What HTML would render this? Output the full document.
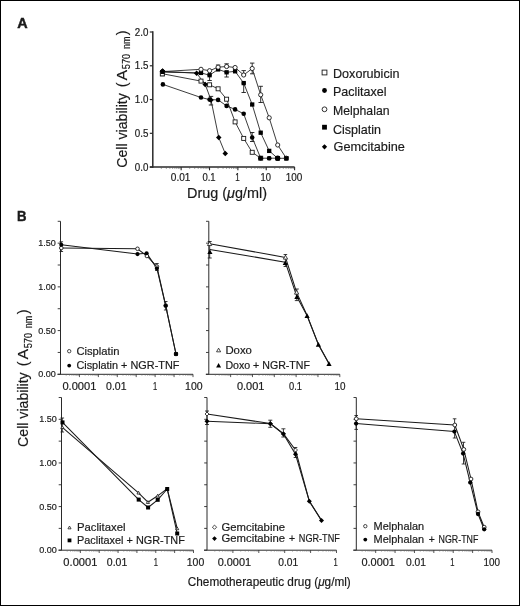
<!DOCTYPE html>
<html><head><meta charset="utf-8"><title>Figure</title>
<style>html,body{margin:0;padding:0;background:#fff;}svg{display:block;filter:grayscale(1);}</style></head><body>
<svg width="520" height="606" viewBox="0 0 520 606" font-family="Liberation Sans, sans-serif">
<rect x="0" y="0" width="520" height="606" fill="#fff"/>
<rect x="0.5" y="0.5" width="519" height="605" fill="none" stroke="#000" stroke-width="1"/>
<text x="17.20" y="27.80" font-size="14.6" text-anchor="start" fill="#1a1a1a" textLength="10.40" lengthAdjust="spacingAndGlyphs" font-weight="bold" stroke="#1a1a1a" stroke-width="0.45">A</text>
<line x1="152.80" y1="31.30" x2="152.80" y2="167.80" stroke="#2a2a2a" stroke-width="1.5"/>
<line x1="149.80" y1="167.10" x2="294.60" y2="167.10" stroke="#2a2a2a" stroke-width="1.5"/>
<line x1="149.80" y1="167.10" x2="152.80" y2="167.10" stroke="#2a2a2a" stroke-width="1.2"/>
<text x="148.40" y="170.65" font-size="10.2" text-anchor="end" fill="#1a1a1a" textLength="13.60" lengthAdjust="spacingAndGlyphs" stroke="#1a1a1a" stroke-width="0.18">0.0</text>
<line x1="149.80" y1="133.32" x2="152.80" y2="133.32" stroke="#2a2a2a" stroke-width="1.2"/>
<text x="148.40" y="136.88" font-size="10.2" text-anchor="end" fill="#1a1a1a" textLength="13.60" lengthAdjust="spacingAndGlyphs" stroke="#1a1a1a" stroke-width="0.18">0.5</text>
<line x1="149.80" y1="99.55" x2="152.80" y2="99.55" stroke="#2a2a2a" stroke-width="1.2"/>
<text x="148.40" y="103.10" font-size="10.2" text-anchor="end" fill="#1a1a1a" textLength="13.60" lengthAdjust="spacingAndGlyphs" stroke="#1a1a1a" stroke-width="0.18">1.0</text>
<line x1="149.80" y1="65.78" x2="152.80" y2="65.78" stroke="#2a2a2a" stroke-width="1.2"/>
<text x="148.40" y="69.33" font-size="10.2" text-anchor="end" fill="#1a1a1a" textLength="13.60" lengthAdjust="spacingAndGlyphs" stroke="#1a1a1a" stroke-width="0.18">1.5</text>
<line x1="149.80" y1="32.00" x2="152.80" y2="32.00" stroke="#2a2a2a" stroke-width="1.2"/>
<text x="148.40" y="35.55" font-size="10.2" text-anchor="end" fill="#1a1a1a" textLength="13.60" lengthAdjust="spacingAndGlyphs" stroke="#1a1a1a" stroke-width="0.18">2.0</text>
<line x1="161.34" y1="167.10" x2="161.34" y2="168.90" stroke="#555" stroke-width="0.6"/>
<line x1="166.33" y1="167.10" x2="166.33" y2="168.90" stroke="#555" stroke-width="0.6"/>
<line x1="169.87" y1="167.10" x2="169.87" y2="168.90" stroke="#555" stroke-width="0.6"/>
<line x1="172.62" y1="167.10" x2="172.62" y2="168.90" stroke="#555" stroke-width="0.6"/>
<line x1="174.87" y1="167.10" x2="174.87" y2="168.90" stroke="#555" stroke-width="0.6"/>
<line x1="176.77" y1="167.10" x2="176.77" y2="168.90" stroke="#555" stroke-width="0.6"/>
<line x1="178.41" y1="167.10" x2="178.41" y2="168.90" stroke="#555" stroke-width="0.6"/>
<line x1="179.86" y1="167.10" x2="179.86" y2="168.90" stroke="#555" stroke-width="0.6"/>
<line x1="181.16" y1="167.10" x2="181.16" y2="170.30" stroke="#2a2a2a" stroke-width="1.1"/>
<line x1="189.70" y1="167.10" x2="189.70" y2="168.90" stroke="#555" stroke-width="0.6"/>
<line x1="194.69" y1="167.10" x2="194.69" y2="168.90" stroke="#555" stroke-width="0.6"/>
<line x1="198.23" y1="167.10" x2="198.23" y2="168.90" stroke="#555" stroke-width="0.6"/>
<line x1="200.98" y1="167.10" x2="200.98" y2="168.90" stroke="#555" stroke-width="0.6"/>
<line x1="203.23" y1="167.10" x2="203.23" y2="168.90" stroke="#555" stroke-width="0.6"/>
<line x1="205.13" y1="167.10" x2="205.13" y2="168.90" stroke="#555" stroke-width="0.6"/>
<line x1="206.77" y1="167.10" x2="206.77" y2="168.90" stroke="#555" stroke-width="0.6"/>
<line x1="208.22" y1="167.10" x2="208.22" y2="168.90" stroke="#555" stroke-width="0.6"/>
<line x1="209.52" y1="167.10" x2="209.52" y2="170.30" stroke="#2a2a2a" stroke-width="1.1"/>
<line x1="218.06" y1="167.10" x2="218.06" y2="168.90" stroke="#555" stroke-width="0.6"/>
<line x1="223.05" y1="167.10" x2="223.05" y2="168.90" stroke="#555" stroke-width="0.6"/>
<line x1="226.59" y1="167.10" x2="226.59" y2="168.90" stroke="#555" stroke-width="0.6"/>
<line x1="229.34" y1="167.10" x2="229.34" y2="168.90" stroke="#555" stroke-width="0.6"/>
<line x1="231.59" y1="167.10" x2="231.59" y2="168.90" stroke="#555" stroke-width="0.6"/>
<line x1="233.49" y1="167.10" x2="233.49" y2="168.90" stroke="#555" stroke-width="0.6"/>
<line x1="235.13" y1="167.10" x2="235.13" y2="168.90" stroke="#555" stroke-width="0.6"/>
<line x1="236.58" y1="167.10" x2="236.58" y2="168.90" stroke="#555" stroke-width="0.6"/>
<line x1="237.88" y1="167.10" x2="237.88" y2="170.30" stroke="#2a2a2a" stroke-width="1.1"/>
<line x1="246.42" y1="167.10" x2="246.42" y2="168.90" stroke="#555" stroke-width="0.6"/>
<line x1="251.41" y1="167.10" x2="251.41" y2="168.90" stroke="#555" stroke-width="0.6"/>
<line x1="254.95" y1="167.10" x2="254.95" y2="168.90" stroke="#555" stroke-width="0.6"/>
<line x1="257.70" y1="167.10" x2="257.70" y2="168.90" stroke="#555" stroke-width="0.6"/>
<line x1="259.95" y1="167.10" x2="259.95" y2="168.90" stroke="#555" stroke-width="0.6"/>
<line x1="261.85" y1="167.10" x2="261.85" y2="168.90" stroke="#555" stroke-width="0.6"/>
<line x1="263.49" y1="167.10" x2="263.49" y2="168.90" stroke="#555" stroke-width="0.6"/>
<line x1="264.94" y1="167.10" x2="264.94" y2="168.90" stroke="#555" stroke-width="0.6"/>
<line x1="266.24" y1="167.10" x2="266.24" y2="170.30" stroke="#2a2a2a" stroke-width="1.1"/>
<line x1="274.78" y1="167.10" x2="274.78" y2="168.90" stroke="#555" stroke-width="0.6"/>
<line x1="279.77" y1="167.10" x2="279.77" y2="168.90" stroke="#555" stroke-width="0.6"/>
<line x1="283.31" y1="167.10" x2="283.31" y2="168.90" stroke="#555" stroke-width="0.6"/>
<line x1="286.06" y1="167.10" x2="286.06" y2="168.90" stroke="#555" stroke-width="0.6"/>
<line x1="288.31" y1="167.10" x2="288.31" y2="168.90" stroke="#555" stroke-width="0.6"/>
<line x1="290.21" y1="167.10" x2="290.21" y2="168.90" stroke="#555" stroke-width="0.6"/>
<line x1="291.85" y1="167.10" x2="291.85" y2="168.90" stroke="#555" stroke-width="0.6"/>
<line x1="293.30" y1="167.10" x2="293.30" y2="168.90" stroke="#555" stroke-width="0.6"/>
<line x1="294.60" y1="167.10" x2="294.60" y2="170.30" stroke="#2a2a2a" stroke-width="1.1"/>
<text x="180.66" y="181.20" font-size="10.7" text-anchor="middle" fill="#1a1a1a" textLength="19.60" lengthAdjust="spacingAndGlyphs" stroke="#1a1a1a" stroke-width="0.18">0.01</text>
<text x="209.02" y="181.20" font-size="10.7" text-anchor="middle" fill="#1a1a1a" textLength="13.20" lengthAdjust="spacingAndGlyphs" stroke="#1a1a1a" stroke-width="0.18">0.1</text>
<text x="237.38" y="181.20" font-size="10.7" text-anchor="middle" fill="#1a1a1a" textLength="4.50" lengthAdjust="spacingAndGlyphs" stroke="#1a1a1a" stroke-width="0.18">1</text>
<text x="265.74" y="181.20" font-size="10.7" text-anchor="middle" fill="#1a1a1a" textLength="10.40" lengthAdjust="spacingAndGlyphs" stroke="#1a1a1a" stroke-width="0.18">10</text>
<text x="294.10" y="181.20" font-size="10.7" text-anchor="middle" fill="#1a1a1a" textLength="16.60" lengthAdjust="spacingAndGlyphs" stroke="#1a1a1a" stroke-width="0.18">100</text>
<text x="187.00" y="197.70" font-size="14.4" text-anchor="start" fill="#1a1a1a" textLength="80.00" lengthAdjust="spacingAndGlyphs" stroke="#1a1a1a" stroke-width="0.18">Drug (<tspan font-style="italic">μ</tspan>g/ml)</text>
<text x="126.60" y="167.80" font-size="14.5" text-anchor="start" fill="#1a1a1a" textLength="74.60" lengthAdjust="spacingAndGlyphs" stroke="#1a1a1a" stroke-width="0.18" transform="rotate(-90 126.60 167.80)">Cell viability</text>
<text x="126.60" y="87.20" font-size="14.5" text-anchor="start" fill="#1a1a1a" stroke="#1a1a1a" stroke-width="0.18" transform="rotate(-90 126.60 87.20)">(</text>
<text x="126.60" y="80.50" font-size="14.5" text-anchor="start" fill="#1a1a1a" textLength="10.50" lengthAdjust="spacingAndGlyphs" stroke="#1a1a1a" stroke-width="0.18" transform="rotate(-90 126.60 80.50)">A</text>
<text x="130.20" y="69.20" font-size="10.3" text-anchor="start" fill="#1a1a1a" textLength="15.30" lengthAdjust="spacingAndGlyphs" stroke="#1a1a1a" stroke-width="0.18" transform="rotate(-90 130.20 69.20)">570</text>
<text x="130.20" y="49.10" font-size="10.3" text-anchor="start" fill="#1a1a1a" textLength="12.50" lengthAdjust="spacingAndGlyphs" stroke="#1a1a1a" stroke-width="0.18" transform="rotate(-90 130.20 49.10)">nm</text>
<text x="126.60" y="35.20" font-size="14.5" text-anchor="start" fill="#1a1a1a" stroke="#1a1a1a" stroke-width="0.18" transform="rotate(-90 126.60 35.20)">)</text>
<line x1="226.60" y1="63.80" x2="226.60" y2="66.50" stroke="#1a1a1a" stroke-width="0.9"/>
<line x1="224.40" y1="63.80" x2="228.80" y2="63.80" stroke="#1a1a1a" stroke-width="0.9"/>
<line x1="224.40" y1="66.50" x2="228.80" y2="66.50" stroke="#1a1a1a" stroke-width="0.9"/>
<line x1="218.10" y1="65.00" x2="218.10" y2="67.20" stroke="#1a1a1a" stroke-width="0.9"/>
<line x1="215.90" y1="65.00" x2="220.30" y2="65.00" stroke="#1a1a1a" stroke-width="0.9"/>
<line x1="215.90" y1="67.20" x2="220.30" y2="67.20" stroke="#1a1a1a" stroke-width="0.9"/>
<line x1="243.70" y1="70.60" x2="243.70" y2="75.00" stroke="#1a1a1a" stroke-width="0.9"/>
<line x1="241.50" y1="70.60" x2="245.90" y2="70.60" stroke="#1a1a1a" stroke-width="0.9"/>
<line x1="241.50" y1="75.00" x2="245.90" y2="75.00" stroke="#1a1a1a" stroke-width="0.9"/>
<line x1="252.20" y1="63.10" x2="252.20" y2="73.80" stroke="#1a1a1a" stroke-width="0.9"/>
<line x1="250.00" y1="63.10" x2="254.40" y2="63.10" stroke="#1a1a1a" stroke-width="0.9"/>
<line x1="250.00" y1="73.80" x2="254.40" y2="73.80" stroke="#1a1a1a" stroke-width="0.9"/>
<line x1="260.70" y1="86.30" x2="260.70" y2="102.50" stroke="#1a1a1a" stroke-width="0.9"/>
<line x1="258.50" y1="86.30" x2="262.90" y2="86.30" stroke="#1a1a1a" stroke-width="0.9"/>
<line x1="258.50" y1="102.50" x2="262.90" y2="102.50" stroke="#1a1a1a" stroke-width="0.9"/>
<line x1="243.70" y1="83.10" x2="243.70" y2="92.50" stroke="#1a1a1a" stroke-width="0.9"/>
<line x1="241.50" y1="83.10" x2="245.90" y2="83.10" stroke="#1a1a1a" stroke-width="0.9"/>
<line x1="241.50" y1="92.50" x2="245.90" y2="92.50" stroke="#1a1a1a" stroke-width="0.9"/>
<line x1="226.60" y1="72.30" x2="226.60" y2="77.00" stroke="#1a1a1a" stroke-width="0.9"/>
<line x1="224.40" y1="72.30" x2="228.80" y2="72.30" stroke="#1a1a1a" stroke-width="0.9"/>
<line x1="224.40" y1="77.00" x2="228.80" y2="77.00" stroke="#1a1a1a" stroke-width="0.9"/>
<line x1="209.60" y1="75.20" x2="209.60" y2="80.50" stroke="#1a1a1a" stroke-width="0.9"/>
<line x1="207.40" y1="75.20" x2="211.80" y2="75.20" stroke="#1a1a1a" stroke-width="0.9"/>
<line x1="207.40" y1="80.50" x2="211.80" y2="80.50" stroke="#1a1a1a" stroke-width="0.9"/>
<line x1="252.20" y1="132.50" x2="252.20" y2="141.50" stroke="#1a1a1a" stroke-width="0.9"/>
<line x1="250.00" y1="132.50" x2="254.40" y2="132.50" stroke="#1a1a1a" stroke-width="0.9"/>
<line x1="250.00" y1="141.50" x2="254.40" y2="141.50" stroke="#1a1a1a" stroke-width="0.9"/>
<line x1="211.00" y1="96.40" x2="211.00" y2="105.00" stroke="#1a1a1a" stroke-width="0.9"/>
<line x1="208.80" y1="96.40" x2="213.20" y2="96.40" stroke="#1a1a1a" stroke-width="0.9"/>
<line x1="208.80" y1="105.00" x2="213.20" y2="105.00" stroke="#1a1a1a" stroke-width="0.9"/>
<polyline points="162.90,84.40 201.00,97.50 209.60,99.60 218.10,99.90 226.60,105.90 235.10,109.40 243.70,113.80 252.20,137.50 260.70,158.20 269.20,158.20 277.70,158.20" fill="none" stroke="#1a1a1a" stroke-width="0.85" stroke-linejoin="round"/>
<polyline points="162.50,73.75 201.00,81.10 209.60,84.80 218.10,88.80 226.60,99.20 235.10,121.90 243.70,138.40 252.20,152.30 260.70,158.20" fill="none" stroke="#1a1a1a" stroke-width="0.85" stroke-linejoin="round"/>
<polyline points="162.50,71.25 196.60,73.20 205.20,84.40 211.00,100.00 218.75,137.60 225.25,153.50" fill="none" stroke="#1a1a1a" stroke-width="0.85" stroke-linejoin="round"/>
<polyline points="162.50,72.20 201.00,72.90 209.60,75.20 218.10,69.40 226.60,72.30 235.10,71.30 243.70,83.10 252.20,104.50 260.70,132.70 269.20,150.90 277.70,158.30 286.30,158.30" fill="none" stroke="#1a1a1a" stroke-width="0.85" stroke-linejoin="round"/>
<polyline points="162.50,71.60 201.00,69.30 209.60,70.70 218.10,67.20 226.60,66.50 235.10,67.50 243.70,75.00 252.20,68.50 260.70,94.80 269.20,117.80 277.70,145.00 286.30,158.20" fill="none" stroke="#1a1a1a" stroke-width="0.85" stroke-linejoin="round"/>
<circle cx="162.90" cy="84.40" r="2.30" fill="#000"/>
<circle cx="201.00" cy="97.50" r="2.30" fill="#000"/>
<circle cx="209.60" cy="99.60" r="2.30" fill="#000"/>
<circle cx="218.10" cy="99.90" r="2.30" fill="#000"/>
<circle cx="226.60" cy="105.90" r="2.30" fill="#000"/>
<circle cx="235.10" cy="109.40" r="2.30" fill="#000"/>
<circle cx="243.70" cy="113.80" r="2.30" fill="#000"/>
<circle cx="252.20" cy="137.50" r="2.30" fill="#000"/>
<circle cx="260.70" cy="158.20" r="2.30" fill="#000"/>
<circle cx="269.20" cy="158.20" r="2.30" fill="#000"/>
<circle cx="277.70" cy="158.20" r="2.30" fill="#000"/>
<polygon points="162.50,68.50 165.25,71.25 162.50,74.00 159.75,71.25" fill="#000"/>
<polygon points="196.60,70.45 199.35,73.20 196.60,75.95 193.85,73.20" fill="#000"/>
<polygon points="205.20,81.65 207.95,84.40 205.20,87.15 202.45,84.40" fill="#000"/>
<polygon points="211.00,97.25 213.75,100.00 211.00,102.75 208.25,100.00" fill="#000"/>
<polygon points="218.75,134.85 221.50,137.60 218.75,140.35 216.00,137.60" fill="#000"/>
<polygon points="225.25,150.75 228.00,153.50 225.25,156.25 222.50,153.50" fill="#000"/>
<rect x="160.50" y="71.75" width="4.00" height="4.00" fill="#fff" stroke="#1a1a1a" stroke-width="0.9"/>
<rect x="199.00" y="79.10" width="4.00" height="4.00" fill="#fff" stroke="#1a1a1a" stroke-width="0.9"/>
<rect x="207.60" y="82.80" width="4.00" height="4.00" fill="#fff" stroke="#1a1a1a" stroke-width="0.9"/>
<rect x="216.10" y="86.80" width="4.00" height="4.00" fill="#fff" stroke="#1a1a1a" stroke-width="0.9"/>
<rect x="224.60" y="97.20" width="4.00" height="4.00" fill="#fff" stroke="#1a1a1a" stroke-width="0.9"/>
<rect x="233.10" y="119.90" width="4.00" height="4.00" fill="#fff" stroke="#1a1a1a" stroke-width="0.9"/>
<rect x="241.70" y="136.40" width="4.00" height="4.00" fill="#fff" stroke="#1a1a1a" stroke-width="0.9"/>
<rect x="250.20" y="150.30" width="4.00" height="4.00" fill="#fff" stroke="#1a1a1a" stroke-width="0.9"/>
<rect x="258.70" y="156.20" width="4.00" height="4.00" fill="#fff" stroke="#1a1a1a" stroke-width="0.9"/>
<rect x="160.35" y="70.05" width="4.30" height="4.30" fill="#000"/>
<rect x="198.85" y="70.75" width="4.30" height="4.30" fill="#000"/>
<rect x="207.45" y="73.05" width="4.30" height="4.30" fill="#000"/>
<rect x="215.95" y="67.25" width="4.30" height="4.30" fill="#000"/>
<rect x="224.45" y="70.15" width="4.30" height="4.30" fill="#000"/>
<rect x="232.95" y="69.15" width="4.30" height="4.30" fill="#000"/>
<rect x="241.55" y="80.95" width="4.30" height="4.30" fill="#000"/>
<rect x="250.05" y="102.35" width="4.30" height="4.30" fill="#000"/>
<rect x="258.55" y="130.55" width="4.30" height="4.30" fill="#000"/>
<rect x="267.05" y="148.75" width="4.30" height="4.30" fill="#000"/>
<rect x="275.55" y="156.15" width="4.30" height="4.30" fill="#000"/>
<rect x="284.15" y="156.15" width="4.30" height="4.30" fill="#000"/>
<circle cx="162.50" cy="71.60" r="2.10" fill="#fff" stroke="#1a1a1a" stroke-width="0.9"/>
<circle cx="201.00" cy="69.30" r="2.10" fill="#fff" stroke="#1a1a1a" stroke-width="0.9"/>
<circle cx="209.60" cy="70.70" r="2.10" fill="#fff" stroke="#1a1a1a" stroke-width="0.9"/>
<circle cx="218.10" cy="67.20" r="2.10" fill="#fff" stroke="#1a1a1a" stroke-width="0.9"/>
<circle cx="226.60" cy="66.50" r="2.10" fill="#fff" stroke="#1a1a1a" stroke-width="0.9"/>
<circle cx="235.10" cy="67.50" r="2.10" fill="#fff" stroke="#1a1a1a" stroke-width="0.9"/>
<circle cx="243.70" cy="75.00" r="2.10" fill="#fff" stroke="#1a1a1a" stroke-width="0.9"/>
<circle cx="252.20" cy="68.50" r="2.10" fill="#fff" stroke="#1a1a1a" stroke-width="0.9"/>
<circle cx="260.70" cy="94.80" r="2.10" fill="#fff" stroke="#1a1a1a" stroke-width="0.9"/>
<circle cx="269.20" cy="117.80" r="2.10" fill="#fff" stroke="#1a1a1a" stroke-width="0.9"/>
<circle cx="277.70" cy="145.00" r="2.10" fill="#fff" stroke="#1a1a1a" stroke-width="0.9"/>
<circle cx="286.30" cy="158.20" r="2.10" fill="#fff" stroke="#1a1a1a" stroke-width="0.9"/>
<circle cx="260.70" cy="158.20" r="2.40" fill="#000"/>
<circle cx="277.70" cy="158.20" r="2.60" fill="#000"/>
<rect x="284.20" y="156.20" width="4.20" height="4.20" fill="#000"/>
<rect x="275.60" y="156.20" width="4.20" height="4.20" fill="#000"/>
<rect x="267.30" y="156.40" width="3.80" height="3.80" fill="#000"/>
<rect x="160.30" y="71.90" width="4.00" height="4.00" fill="#fff" stroke="#1a1a1a" stroke-width="0.9"/>
<rect x="160.50" y="70.00" width="4.00" height="4.00" fill="#000"/>
<polygon points="162.60,68.33 165.47,71.20 162.60,74.08 159.72,71.20" fill="#000"/>
<rect x="322.10" y="70.10" width="4.80" height="4.80" fill="#fff" stroke="#1a1a1a" stroke-width="0.9"/>
<text x="333.00" y="77.60" font-size="12.7" text-anchor="start" fill="#1a1a1a" textLength="66.50" lengthAdjust="spacingAndGlyphs" stroke="#1a1a1a" stroke-width="0.18">Doxorubicin</text>
<circle cx="324.50" cy="90.50" r="2.40" fill="#000"/>
<text x="333.00" y="95.60" font-size="12.7" text-anchor="start" fill="#1a1a1a" textLength="53.50" lengthAdjust="spacingAndGlyphs" stroke="#1a1a1a" stroke-width="0.18">Paclitaxel</text>
<circle cx="324.50" cy="109.30" r="2.40" fill="#fff" stroke="#1a1a1a" stroke-width="0.9"/>
<text x="333.00" y="114.50" font-size="12.7" text-anchor="start" fill="#1a1a1a" textLength="56.50" lengthAdjust="spacingAndGlyphs" stroke="#1a1a1a" stroke-width="0.18">Melphalan</text>
<rect x="322.10" y="124.80" width="4.80" height="4.80" fill="#000"/>
<text x="333.00" y="133.60" font-size="12.7" text-anchor="start" fill="#1a1a1a" textLength="48.00" lengthAdjust="spacingAndGlyphs" stroke="#1a1a1a" stroke-width="0.18">Cisplatin</text>
<polygon points="324.50,144.18 327.12,146.80 324.50,149.43 321.88,146.80" fill="#000"/>
<text x="333.60" y="151.30" font-size="12.7" text-anchor="start" fill="#1a1a1a" textLength="71.30" lengthAdjust="spacingAndGlyphs" stroke="#1a1a1a" stroke-width="0.18">Gemcitabine</text>
<text x="17.10" y="221.00" font-size="14.4" text-anchor="start" fill="#1a1a1a" textLength="9.50" lengthAdjust="spacingAndGlyphs" font-weight="bold" stroke="#1a1a1a" stroke-width="0.45">B</text>
<line x1="60.50" y1="221.30" x2="60.50" y2="374.30" stroke="#2a2a2a" stroke-width="1.0"/>
<line x1="57.50" y1="374.30" x2="193.00" y2="374.30" stroke="#2a2a2a" stroke-width="1.0"/>
<line x1="57.70" y1="374.30" x2="60.50" y2="374.30" stroke="#2a2a2a" stroke-width="0.9"/>
<line x1="57.70" y1="352.44" x2="60.50" y2="352.44" stroke="#2a2a2a" stroke-width="0.9"/>
<line x1="57.70" y1="330.59" x2="60.50" y2="330.59" stroke="#2a2a2a" stroke-width="0.9"/>
<line x1="57.70" y1="308.73" x2="60.50" y2="308.73" stroke="#2a2a2a" stroke-width="0.9"/>
<line x1="57.70" y1="286.87" x2="60.50" y2="286.87" stroke="#2a2a2a" stroke-width="0.9"/>
<line x1="57.70" y1="265.01" x2="60.50" y2="265.01" stroke="#2a2a2a" stroke-width="0.9"/>
<line x1="57.70" y1="243.16" x2="60.50" y2="243.16" stroke="#2a2a2a" stroke-width="0.9"/>
<line x1="57.70" y1="221.30" x2="60.50" y2="221.30" stroke="#2a2a2a" stroke-width="0.9"/>
<text x="55.90" y="377.40" font-size="9.0" text-anchor="end" fill="#1a1a1a" textLength="17.60" lengthAdjust="spacingAndGlyphs" stroke="#1a1a1a" stroke-width="0.18">0.00</text>
<text x="55.90" y="333.69" font-size="9.0" text-anchor="end" fill="#1a1a1a" textLength="17.60" lengthAdjust="spacingAndGlyphs" stroke="#1a1a1a" stroke-width="0.18">0.50</text>
<text x="55.90" y="289.97" font-size="9.0" text-anchor="end" fill="#1a1a1a" textLength="17.60" lengthAdjust="spacingAndGlyphs" stroke="#1a1a1a" stroke-width="0.18">1.00</text>
<text x="55.90" y="246.26" font-size="9.0" text-anchor="end" fill="#1a1a1a" textLength="17.60" lengthAdjust="spacingAndGlyphs" stroke="#1a1a1a" stroke-width="0.18">1.50</text>
<line x1="66.20" y1="374.30" x2="66.20" y2="375.80" stroke="#666" stroke-width="0.5"/>
<line x1="69.53" y1="374.30" x2="69.53" y2="375.80" stroke="#666" stroke-width="0.5"/>
<line x1="71.90" y1="374.30" x2="71.90" y2="375.80" stroke="#666" stroke-width="0.5"/>
<line x1="73.73" y1="374.30" x2="73.73" y2="375.80" stroke="#666" stroke-width="0.5"/>
<line x1="75.23" y1="374.30" x2="75.23" y2="375.80" stroke="#666" stroke-width="0.5"/>
<line x1="76.50" y1="374.30" x2="76.50" y2="375.80" stroke="#666" stroke-width="0.5"/>
<line x1="77.59" y1="374.30" x2="77.59" y2="375.80" stroke="#666" stroke-width="0.5"/>
<line x1="78.56" y1="374.30" x2="78.56" y2="375.80" stroke="#666" stroke-width="0.5"/>
<line x1="79.43" y1="374.30" x2="79.43" y2="377.10" stroke="#2a2a2a" stroke-width="0.8"/>
<line x1="85.13" y1="374.30" x2="85.13" y2="375.80" stroke="#666" stroke-width="0.5"/>
<line x1="88.46" y1="374.30" x2="88.46" y2="375.80" stroke="#666" stroke-width="0.5"/>
<line x1="90.82" y1="374.30" x2="90.82" y2="375.80" stroke="#666" stroke-width="0.5"/>
<line x1="92.66" y1="374.30" x2="92.66" y2="375.80" stroke="#666" stroke-width="0.5"/>
<line x1="94.16" y1="374.30" x2="94.16" y2="375.80" stroke="#666" stroke-width="0.5"/>
<line x1="95.43" y1="374.30" x2="95.43" y2="375.80" stroke="#666" stroke-width="0.5"/>
<line x1="96.52" y1="374.30" x2="96.52" y2="375.80" stroke="#666" stroke-width="0.5"/>
<line x1="97.49" y1="374.30" x2="97.49" y2="375.80" stroke="#666" stroke-width="0.5"/>
<line x1="98.36" y1="374.30" x2="98.36" y2="377.10" stroke="#2a2a2a" stroke-width="0.8"/>
<line x1="104.06" y1="374.30" x2="104.06" y2="375.80" stroke="#666" stroke-width="0.5"/>
<line x1="107.39" y1="374.30" x2="107.39" y2="375.80" stroke="#666" stroke-width="0.5"/>
<line x1="109.75" y1="374.30" x2="109.75" y2="375.80" stroke="#666" stroke-width="0.5"/>
<line x1="111.59" y1="374.30" x2="111.59" y2="375.80" stroke="#666" stroke-width="0.5"/>
<line x1="113.09" y1="374.30" x2="113.09" y2="375.80" stroke="#666" stroke-width="0.5"/>
<line x1="114.35" y1="374.30" x2="114.35" y2="375.80" stroke="#666" stroke-width="0.5"/>
<line x1="115.45" y1="374.30" x2="115.45" y2="375.80" stroke="#666" stroke-width="0.5"/>
<line x1="116.42" y1="374.30" x2="116.42" y2="375.80" stroke="#666" stroke-width="0.5"/>
<line x1="117.29" y1="374.30" x2="117.29" y2="377.10" stroke="#2a2a2a" stroke-width="0.8"/>
<line x1="122.98" y1="374.30" x2="122.98" y2="375.80" stroke="#666" stroke-width="0.5"/>
<line x1="126.32" y1="374.30" x2="126.32" y2="375.80" stroke="#666" stroke-width="0.5"/>
<line x1="128.68" y1="374.30" x2="128.68" y2="375.80" stroke="#666" stroke-width="0.5"/>
<line x1="130.52" y1="374.30" x2="130.52" y2="375.80" stroke="#666" stroke-width="0.5"/>
<line x1="132.02" y1="374.30" x2="132.02" y2="375.80" stroke="#666" stroke-width="0.5"/>
<line x1="133.28" y1="374.30" x2="133.28" y2="375.80" stroke="#666" stroke-width="0.5"/>
<line x1="134.38" y1="374.30" x2="134.38" y2="375.80" stroke="#666" stroke-width="0.5"/>
<line x1="135.35" y1="374.30" x2="135.35" y2="375.80" stroke="#666" stroke-width="0.5"/>
<line x1="136.21" y1="374.30" x2="136.21" y2="377.10" stroke="#2a2a2a" stroke-width="0.8"/>
<line x1="141.91" y1="374.30" x2="141.91" y2="375.80" stroke="#666" stroke-width="0.5"/>
<line x1="145.25" y1="374.30" x2="145.25" y2="375.80" stroke="#666" stroke-width="0.5"/>
<line x1="147.61" y1="374.30" x2="147.61" y2="375.80" stroke="#666" stroke-width="0.5"/>
<line x1="149.44" y1="374.30" x2="149.44" y2="375.80" stroke="#666" stroke-width="0.5"/>
<line x1="150.94" y1="374.30" x2="150.94" y2="375.80" stroke="#666" stroke-width="0.5"/>
<line x1="152.21" y1="374.30" x2="152.21" y2="375.80" stroke="#666" stroke-width="0.5"/>
<line x1="153.31" y1="374.30" x2="153.31" y2="375.80" stroke="#666" stroke-width="0.5"/>
<line x1="154.28" y1="374.30" x2="154.28" y2="375.80" stroke="#666" stroke-width="0.5"/>
<line x1="155.14" y1="374.30" x2="155.14" y2="377.10" stroke="#2a2a2a" stroke-width="0.8"/>
<line x1="160.84" y1="374.30" x2="160.84" y2="375.80" stroke="#666" stroke-width="0.5"/>
<line x1="164.17" y1="374.30" x2="164.17" y2="375.80" stroke="#666" stroke-width="0.5"/>
<line x1="166.54" y1="374.30" x2="166.54" y2="375.80" stroke="#666" stroke-width="0.5"/>
<line x1="168.37" y1="374.30" x2="168.37" y2="375.80" stroke="#666" stroke-width="0.5"/>
<line x1="169.87" y1="374.30" x2="169.87" y2="375.80" stroke="#666" stroke-width="0.5"/>
<line x1="171.14" y1="374.30" x2="171.14" y2="375.80" stroke="#666" stroke-width="0.5"/>
<line x1="172.24" y1="374.30" x2="172.24" y2="375.80" stroke="#666" stroke-width="0.5"/>
<line x1="173.21" y1="374.30" x2="173.21" y2="375.80" stroke="#666" stroke-width="0.5"/>
<line x1="174.07" y1="374.30" x2="174.07" y2="377.10" stroke="#2a2a2a" stroke-width="0.8"/>
<line x1="179.77" y1="374.30" x2="179.77" y2="375.80" stroke="#666" stroke-width="0.5"/>
<line x1="183.10" y1="374.30" x2="183.10" y2="375.80" stroke="#666" stroke-width="0.5"/>
<line x1="185.47" y1="374.30" x2="185.47" y2="375.80" stroke="#666" stroke-width="0.5"/>
<line x1="187.30" y1="374.30" x2="187.30" y2="375.80" stroke="#666" stroke-width="0.5"/>
<line x1="188.80" y1="374.30" x2="188.80" y2="375.80" stroke="#666" stroke-width="0.5"/>
<line x1="190.07" y1="374.30" x2="190.07" y2="375.80" stroke="#666" stroke-width="0.5"/>
<line x1="191.17" y1="374.30" x2="191.17" y2="375.80" stroke="#666" stroke-width="0.5"/>
<line x1="192.13" y1="374.30" x2="192.13" y2="375.80" stroke="#666" stroke-width="0.5"/>
<line x1="193.00" y1="374.30" x2="193.00" y2="377.10" stroke="#2a2a2a" stroke-width="0.8"/>
<text x="79.43" y="389.90" font-size="10.4" text-anchor="middle" fill="#1a1a1a" textLength="34.00" lengthAdjust="spacingAndGlyphs" stroke="#1a1a1a" stroke-width="0.18">0.0001</text>
<text x="116.29" y="389.90" font-size="10.4" text-anchor="middle" fill="#1a1a1a" textLength="20.40" lengthAdjust="spacingAndGlyphs" stroke="#1a1a1a" stroke-width="0.18">0.01</text>
<text x="155.14" y="389.90" font-size="10.4" text-anchor="middle" fill="#1a1a1a" textLength="4.20" lengthAdjust="spacingAndGlyphs" stroke="#1a1a1a" stroke-width="0.18">1</text>
<text x="193.80" y="389.90" font-size="10.4" text-anchor="middle" fill="#1a1a1a" textLength="17.50" lengthAdjust="spacingAndGlyphs" stroke="#1a1a1a" stroke-width="0.18">100</text>
<line x1="61.30" y1="241.80" x2="61.30" y2="251.50" stroke="#1a1a1a" stroke-width="0.85"/>
<line x1="59.50" y1="241.80" x2="63.10" y2="241.80" stroke="#1a1a1a" stroke-width="0.85"/>
<line x1="59.50" y1="251.50" x2="63.10" y2="251.50" stroke="#1a1a1a" stroke-width="0.85"/>
<line x1="165.70" y1="301.50" x2="165.70" y2="310.00" stroke="#1a1a1a" stroke-width="0.85"/>
<line x1="163.90" y1="301.50" x2="167.50" y2="301.50" stroke="#1a1a1a" stroke-width="0.85"/>
<line x1="163.90" y1="310.00" x2="167.50" y2="310.00" stroke="#1a1a1a" stroke-width="0.85"/>
<line x1="156.90" y1="263.50" x2="156.90" y2="270.50" stroke="#1a1a1a" stroke-width="0.85"/>
<line x1="155.10" y1="263.50" x2="158.70" y2="263.50" stroke="#1a1a1a" stroke-width="0.85"/>
<line x1="155.10" y1="270.50" x2="158.70" y2="270.50" stroke="#1a1a1a" stroke-width="0.85"/>
<polyline points="61.30,248.00 137.50,248.80 146.90,256.00 156.90,266.60 165.70,305.60 176.00,354.00" fill="none" stroke="#1a1a1a" stroke-width="1.05" stroke-linejoin="round"/>
<polyline points="61.30,244.80 137.50,254.10 146.60,253.20 156.90,268.40 165.70,305.80 176.00,354.00" fill="none" stroke="#1a1a1a" stroke-width="1.05" stroke-linejoin="round"/>
<circle cx="61.30" cy="248.00" r="1.80" fill="#fff" stroke="#1a1a1a" stroke-width="0.9"/>
<circle cx="137.50" cy="248.80" r="1.80" fill="#fff" stroke="#1a1a1a" stroke-width="0.9"/>
<circle cx="146.90" cy="256.00" r="1.80" fill="#fff" stroke="#1a1a1a" stroke-width="0.9"/>
<circle cx="156.90" cy="266.60" r="1.80" fill="#fff" stroke="#1a1a1a" stroke-width="0.9"/>
<circle cx="165.70" cy="305.60" r="1.80" fill="#fff" stroke="#1a1a1a" stroke-width="0.9"/>
<circle cx="176.00" cy="354.00" r="1.80" fill="#fff" stroke="#1a1a1a" stroke-width="0.9"/>
<circle cx="61.30" cy="244.80" r="2.05" fill="#000"/>
<circle cx="137.50" cy="254.10" r="2.05" fill="#000"/>
<circle cx="146.60" cy="253.20" r="2.05" fill="#000"/>
<circle cx="156.90" cy="268.40" r="2.05" fill="#000"/>
<circle cx="165.70" cy="305.80" r="2.05" fill="#000"/>
<rect x="174.10" y="352.10" width="3.80" height="3.80" fill="#000"/>
<circle cx="69.20" cy="351.20" r="1.70" fill="#fff" stroke="#1a1a1a" stroke-width="0.8"/>
<circle cx="69.20" cy="365.60" r="1.90" fill="#000"/>
<text x="76.40" y="354.80" font-size="10.6" text-anchor="start" fill="#1a1a1a" textLength="43.00" lengthAdjust="spacingAndGlyphs" stroke="#1a1a1a" stroke-width="0.18">Cisplatin</text>
<text x="76.40" y="369.20" font-size="10.6" text-anchor="start" fill="#1a1a1a" textLength="103.00" lengthAdjust="spacingAndGlyphs" stroke="#1a1a1a" stroke-width="0.18">Cisplatin + NGR-TNF</text>
<line x1="208.80" y1="221.30" x2="208.80" y2="374.30" stroke="#2a2a2a" stroke-width="1.0"/>
<line x1="205.80" y1="374.30" x2="339.80" y2="374.30" stroke="#2a2a2a" stroke-width="1.0"/>
<line x1="206.00" y1="374.30" x2="208.80" y2="374.30" stroke="#2a2a2a" stroke-width="0.9"/>
<line x1="206.00" y1="352.44" x2="208.80" y2="352.44" stroke="#2a2a2a" stroke-width="0.9"/>
<line x1="206.00" y1="330.59" x2="208.80" y2="330.59" stroke="#2a2a2a" stroke-width="0.9"/>
<line x1="206.00" y1="308.73" x2="208.80" y2="308.73" stroke="#2a2a2a" stroke-width="0.9"/>
<line x1="206.00" y1="286.87" x2="208.80" y2="286.87" stroke="#2a2a2a" stroke-width="0.9"/>
<line x1="206.00" y1="265.01" x2="208.80" y2="265.01" stroke="#2a2a2a" stroke-width="0.9"/>
<line x1="206.00" y1="243.16" x2="208.80" y2="243.16" stroke="#2a2a2a" stroke-width="0.9"/>
<line x1="206.00" y1="221.30" x2="208.80" y2="221.30" stroke="#2a2a2a" stroke-width="0.9"/>
<line x1="215.37" y1="374.30" x2="215.37" y2="375.80" stroke="#666" stroke-width="0.5"/>
<line x1="219.22" y1="374.30" x2="219.22" y2="375.80" stroke="#666" stroke-width="0.5"/>
<line x1="221.94" y1="374.30" x2="221.94" y2="375.80" stroke="#666" stroke-width="0.5"/>
<line x1="224.06" y1="374.30" x2="224.06" y2="375.80" stroke="#666" stroke-width="0.5"/>
<line x1="225.79" y1="374.30" x2="225.79" y2="375.80" stroke="#666" stroke-width="0.5"/>
<line x1="227.25" y1="374.30" x2="227.25" y2="375.80" stroke="#666" stroke-width="0.5"/>
<line x1="228.52" y1="374.30" x2="228.52" y2="375.80" stroke="#666" stroke-width="0.5"/>
<line x1="229.63" y1="374.30" x2="229.63" y2="375.80" stroke="#666" stroke-width="0.5"/>
<line x1="230.63" y1="374.30" x2="230.63" y2="377.10" stroke="#2a2a2a" stroke-width="0.8"/>
<line x1="237.21" y1="374.30" x2="237.21" y2="375.80" stroke="#666" stroke-width="0.5"/>
<line x1="241.05" y1="374.30" x2="241.05" y2="375.80" stroke="#666" stroke-width="0.5"/>
<line x1="243.78" y1="374.30" x2="243.78" y2="375.80" stroke="#666" stroke-width="0.5"/>
<line x1="245.89" y1="374.30" x2="245.89" y2="375.80" stroke="#666" stroke-width="0.5"/>
<line x1="247.62" y1="374.30" x2="247.62" y2="375.80" stroke="#666" stroke-width="0.5"/>
<line x1="249.08" y1="374.30" x2="249.08" y2="375.80" stroke="#666" stroke-width="0.5"/>
<line x1="250.35" y1="374.30" x2="250.35" y2="375.80" stroke="#666" stroke-width="0.5"/>
<line x1="251.47" y1="374.30" x2="251.47" y2="375.80" stroke="#666" stroke-width="0.5"/>
<line x1="252.47" y1="374.30" x2="252.47" y2="377.10" stroke="#2a2a2a" stroke-width="0.8"/>
<line x1="259.04" y1="374.30" x2="259.04" y2="375.80" stroke="#666" stroke-width="0.5"/>
<line x1="262.88" y1="374.30" x2="262.88" y2="375.80" stroke="#666" stroke-width="0.5"/>
<line x1="265.61" y1="374.30" x2="265.61" y2="375.80" stroke="#666" stroke-width="0.5"/>
<line x1="267.73" y1="374.30" x2="267.73" y2="375.80" stroke="#666" stroke-width="0.5"/>
<line x1="269.46" y1="374.30" x2="269.46" y2="375.80" stroke="#666" stroke-width="0.5"/>
<line x1="270.92" y1="374.30" x2="270.92" y2="375.80" stroke="#666" stroke-width="0.5"/>
<line x1="272.18" y1="374.30" x2="272.18" y2="375.80" stroke="#666" stroke-width="0.5"/>
<line x1="273.30" y1="374.30" x2="273.30" y2="375.80" stroke="#666" stroke-width="0.5"/>
<line x1="274.30" y1="374.30" x2="274.30" y2="377.10" stroke="#2a2a2a" stroke-width="0.8"/>
<line x1="280.87" y1="374.30" x2="280.87" y2="375.80" stroke="#666" stroke-width="0.5"/>
<line x1="284.72" y1="374.30" x2="284.72" y2="375.80" stroke="#666" stroke-width="0.5"/>
<line x1="287.44" y1="374.30" x2="287.44" y2="375.80" stroke="#666" stroke-width="0.5"/>
<line x1="289.56" y1="374.30" x2="289.56" y2="375.80" stroke="#666" stroke-width="0.5"/>
<line x1="291.29" y1="374.30" x2="291.29" y2="375.80" stroke="#666" stroke-width="0.5"/>
<line x1="292.75" y1="374.30" x2="292.75" y2="375.80" stroke="#666" stroke-width="0.5"/>
<line x1="294.02" y1="374.30" x2="294.02" y2="375.80" stroke="#666" stroke-width="0.5"/>
<line x1="295.13" y1="374.30" x2="295.13" y2="375.80" stroke="#666" stroke-width="0.5"/>
<line x1="296.13" y1="374.30" x2="296.13" y2="377.10" stroke="#2a2a2a" stroke-width="0.8"/>
<line x1="302.71" y1="374.30" x2="302.71" y2="375.80" stroke="#666" stroke-width="0.5"/>
<line x1="306.55" y1="374.30" x2="306.55" y2="375.80" stroke="#666" stroke-width="0.5"/>
<line x1="309.28" y1="374.30" x2="309.28" y2="375.80" stroke="#666" stroke-width="0.5"/>
<line x1="311.39" y1="374.30" x2="311.39" y2="375.80" stroke="#666" stroke-width="0.5"/>
<line x1="313.12" y1="374.30" x2="313.12" y2="375.80" stroke="#666" stroke-width="0.5"/>
<line x1="314.58" y1="374.30" x2="314.58" y2="375.80" stroke="#666" stroke-width="0.5"/>
<line x1="315.85" y1="374.30" x2="315.85" y2="375.80" stroke="#666" stroke-width="0.5"/>
<line x1="316.97" y1="374.30" x2="316.97" y2="375.80" stroke="#666" stroke-width="0.5"/>
<line x1="317.97" y1="374.30" x2="317.97" y2="377.10" stroke="#2a2a2a" stroke-width="0.8"/>
<line x1="324.54" y1="374.30" x2="324.54" y2="375.80" stroke="#666" stroke-width="0.5"/>
<line x1="328.38" y1="374.30" x2="328.38" y2="375.80" stroke="#666" stroke-width="0.5"/>
<line x1="331.11" y1="374.30" x2="331.11" y2="375.80" stroke="#666" stroke-width="0.5"/>
<line x1="333.23" y1="374.30" x2="333.23" y2="375.80" stroke="#666" stroke-width="0.5"/>
<line x1="334.96" y1="374.30" x2="334.96" y2="375.80" stroke="#666" stroke-width="0.5"/>
<line x1="336.42" y1="374.30" x2="336.42" y2="375.80" stroke="#666" stroke-width="0.5"/>
<line x1="337.68" y1="374.30" x2="337.68" y2="375.80" stroke="#666" stroke-width="0.5"/>
<line x1="338.80" y1="374.30" x2="338.80" y2="375.80" stroke="#666" stroke-width="0.5"/>
<line x1="339.80" y1="374.30" x2="339.80" y2="377.10" stroke="#2a2a2a" stroke-width="0.8"/>
<text x="250.67" y="389.90" font-size="10.4" text-anchor="middle" fill="#1a1a1a" textLength="27.50" lengthAdjust="spacingAndGlyphs" stroke="#1a1a1a" stroke-width="0.18">0.001</text>
<text x="295.53" y="389.90" font-size="10.4" text-anchor="middle" fill="#1a1a1a" textLength="13.00" lengthAdjust="spacingAndGlyphs" stroke="#1a1a1a" stroke-width="0.18">0.1</text>
<text x="340.10" y="389.90" font-size="10.4" text-anchor="middle" fill="#1a1a1a" textLength="11.00" lengthAdjust="spacingAndGlyphs" stroke="#1a1a1a" stroke-width="0.18">10</text>
<line x1="209.70" y1="241.50" x2="209.70" y2="258.00" stroke="#1a1a1a" stroke-width="0.85"/>
<line x1="207.70" y1="241.50" x2="211.70" y2="241.50" stroke="#1a1a1a" stroke-width="0.85"/>
<line x1="207.70" y1="258.00" x2="211.70" y2="258.00" stroke="#1a1a1a" stroke-width="0.85"/>
<line x1="296.80" y1="289.00" x2="296.80" y2="300.60" stroke="#1a1a1a" stroke-width="0.85"/>
<line x1="294.80" y1="289.00" x2="298.80" y2="289.00" stroke="#1a1a1a" stroke-width="0.85"/>
<line x1="294.80" y1="300.60" x2="298.80" y2="300.60" stroke="#1a1a1a" stroke-width="0.85"/>
<line x1="285.40" y1="254.50" x2="285.40" y2="266.50" stroke="#1a1a1a" stroke-width="0.85"/>
<line x1="283.60" y1="254.50" x2="287.20" y2="254.50" stroke="#1a1a1a" stroke-width="0.85"/>
<line x1="283.60" y1="266.50" x2="287.20" y2="266.50" stroke="#1a1a1a" stroke-width="0.85"/>
<polyline points="209.60,243.80 285.50,257.40 296.60,292.40 307.10,315.40 318.40,344.40 329.00,363.60" fill="none" stroke="#1a1a1a" stroke-width="1.05" stroke-linejoin="round"/>
<polyline points="209.80,249.40 285.30,262.20 296.90,296.80 307.10,315.80 318.40,344.60 329.00,363.80" fill="none" stroke="#1a1a1a" stroke-width="1.05" stroke-linejoin="round"/>
<polygon points="209.60,241.64 211.76,245.53 207.44,245.53" fill="#fff" stroke="#1a1a1a" stroke-width="0.8"/>
<polygon points="285.50,255.24 287.66,259.13 283.34,259.13" fill="#fff" stroke="#1a1a1a" stroke-width="0.8"/>
<polygon points="296.60,290.24 298.76,294.13 294.44,294.13" fill="#fff" stroke="#1a1a1a" stroke-width="0.8"/>
<polygon points="209.90,249.40 212.50,254.08 207.30,254.08" fill="#000"/>
<polygon points="285.30,260.40 287.90,265.08 282.70,265.08" fill="#000"/>
<polygon points="296.90,294.20 299.50,298.88 294.30,298.88" fill="#000"/>
<polygon points="307.10,313.20 309.70,317.88 304.50,317.88" fill="#000"/>
<polygon points="318.40,342.00 321.00,346.68 315.80,346.68" fill="#000"/>
<polygon points="329.00,361.20 331.60,365.88 326.40,365.88" fill="#000"/>
<polygon points="218.60,348.16 220.64,351.83 216.56,351.83" fill="#fff" stroke="#1a1a1a" stroke-width="0.8"/>
<polygon points="218.60,362.93 221.07,367.38 216.13,367.38" fill="#000"/>
<text x="225.40" y="353.80" font-size="10.6" text-anchor="start" fill="#1a1a1a" textLength="26.50" lengthAdjust="spacingAndGlyphs" stroke="#1a1a1a" stroke-width="0.18">Doxo</text>
<text x="225.40" y="369.00" font-size="10.6" text-anchor="start" fill="#1a1a1a" textLength="84.60" lengthAdjust="spacingAndGlyphs" stroke="#1a1a1a" stroke-width="0.18">Doxo + NGR-TNF</text>
<line x1="61.50" y1="397.50" x2="61.50" y2="550.20" stroke="#2a2a2a" stroke-width="1.0"/>
<line x1="58.50" y1="550.20" x2="193.50" y2="550.20" stroke="#2a2a2a" stroke-width="1.0"/>
<line x1="58.70" y1="550.20" x2="61.50" y2="550.20" stroke="#2a2a2a" stroke-width="0.9"/>
<line x1="58.70" y1="528.39" x2="61.50" y2="528.39" stroke="#2a2a2a" stroke-width="0.9"/>
<line x1="58.70" y1="506.57" x2="61.50" y2="506.57" stroke="#2a2a2a" stroke-width="0.9"/>
<line x1="58.70" y1="484.76" x2="61.50" y2="484.76" stroke="#2a2a2a" stroke-width="0.9"/>
<line x1="58.70" y1="462.94" x2="61.50" y2="462.94" stroke="#2a2a2a" stroke-width="0.9"/>
<line x1="58.70" y1="441.13" x2="61.50" y2="441.13" stroke="#2a2a2a" stroke-width="0.9"/>
<line x1="58.70" y1="419.31" x2="61.50" y2="419.31" stroke="#2a2a2a" stroke-width="0.9"/>
<line x1="58.70" y1="397.50" x2="61.50" y2="397.50" stroke="#2a2a2a" stroke-width="0.9"/>
<text x="56.90" y="553.30" font-size="9.0" text-anchor="end" fill="#1a1a1a" textLength="17.60" lengthAdjust="spacingAndGlyphs" stroke="#1a1a1a" stroke-width="0.18">0.00</text>
<text x="56.90" y="509.67" font-size="9.0" text-anchor="end" fill="#1a1a1a" textLength="17.60" lengthAdjust="spacingAndGlyphs" stroke="#1a1a1a" stroke-width="0.18">0.50</text>
<text x="56.90" y="466.04" font-size="9.0" text-anchor="end" fill="#1a1a1a" textLength="17.60" lengthAdjust="spacingAndGlyphs" stroke="#1a1a1a" stroke-width="0.18">1.00</text>
<text x="56.90" y="422.41" font-size="9.0" text-anchor="end" fill="#1a1a1a" textLength="17.60" lengthAdjust="spacingAndGlyphs" stroke="#1a1a1a" stroke-width="0.18">1.50</text>
<line x1="67.18" y1="550.20" x2="67.18" y2="551.70" stroke="#666" stroke-width="0.5"/>
<line x1="70.50" y1="550.20" x2="70.50" y2="551.70" stroke="#666" stroke-width="0.5"/>
<line x1="72.85" y1="550.20" x2="72.85" y2="551.70" stroke="#666" stroke-width="0.5"/>
<line x1="74.68" y1="550.20" x2="74.68" y2="551.70" stroke="#666" stroke-width="0.5"/>
<line x1="76.17" y1="550.20" x2="76.17" y2="551.70" stroke="#666" stroke-width="0.5"/>
<line x1="77.44" y1="550.20" x2="77.44" y2="551.70" stroke="#666" stroke-width="0.5"/>
<line x1="78.53" y1="550.20" x2="78.53" y2="551.70" stroke="#666" stroke-width="0.5"/>
<line x1="79.49" y1="550.20" x2="79.49" y2="551.70" stroke="#666" stroke-width="0.5"/>
<line x1="80.36" y1="550.20" x2="80.36" y2="553.00" stroke="#2a2a2a" stroke-width="0.8"/>
<line x1="86.03" y1="550.20" x2="86.03" y2="551.70" stroke="#666" stroke-width="0.5"/>
<line x1="89.35" y1="550.20" x2="89.35" y2="551.70" stroke="#666" stroke-width="0.5"/>
<line x1="91.71" y1="550.20" x2="91.71" y2="551.70" stroke="#666" stroke-width="0.5"/>
<line x1="93.54" y1="550.20" x2="93.54" y2="551.70" stroke="#666" stroke-width="0.5"/>
<line x1="95.03" y1="550.20" x2="95.03" y2="551.70" stroke="#666" stroke-width="0.5"/>
<line x1="96.29" y1="550.20" x2="96.29" y2="551.70" stroke="#666" stroke-width="0.5"/>
<line x1="97.39" y1="550.20" x2="97.39" y2="551.70" stroke="#666" stroke-width="0.5"/>
<line x1="98.35" y1="550.20" x2="98.35" y2="551.70" stroke="#666" stroke-width="0.5"/>
<line x1="99.21" y1="550.20" x2="99.21" y2="553.00" stroke="#2a2a2a" stroke-width="0.8"/>
<line x1="104.89" y1="550.20" x2="104.89" y2="551.70" stroke="#666" stroke-width="0.5"/>
<line x1="108.21" y1="550.20" x2="108.21" y2="551.70" stroke="#666" stroke-width="0.5"/>
<line x1="110.57" y1="550.20" x2="110.57" y2="551.70" stroke="#666" stroke-width="0.5"/>
<line x1="112.39" y1="550.20" x2="112.39" y2="551.70" stroke="#666" stroke-width="0.5"/>
<line x1="113.89" y1="550.20" x2="113.89" y2="551.70" stroke="#666" stroke-width="0.5"/>
<line x1="115.15" y1="550.20" x2="115.15" y2="551.70" stroke="#666" stroke-width="0.5"/>
<line x1="116.24" y1="550.20" x2="116.24" y2="551.70" stroke="#666" stroke-width="0.5"/>
<line x1="117.21" y1="550.20" x2="117.21" y2="551.70" stroke="#666" stroke-width="0.5"/>
<line x1="118.07" y1="550.20" x2="118.07" y2="553.00" stroke="#2a2a2a" stroke-width="0.8"/>
<line x1="123.75" y1="550.20" x2="123.75" y2="551.70" stroke="#666" stroke-width="0.5"/>
<line x1="127.07" y1="550.20" x2="127.07" y2="551.70" stroke="#666" stroke-width="0.5"/>
<line x1="129.42" y1="550.20" x2="129.42" y2="551.70" stroke="#666" stroke-width="0.5"/>
<line x1="131.25" y1="550.20" x2="131.25" y2="551.70" stroke="#666" stroke-width="0.5"/>
<line x1="132.75" y1="550.20" x2="132.75" y2="551.70" stroke="#666" stroke-width="0.5"/>
<line x1="134.01" y1="550.20" x2="134.01" y2="551.70" stroke="#666" stroke-width="0.5"/>
<line x1="135.10" y1="550.20" x2="135.10" y2="551.70" stroke="#666" stroke-width="0.5"/>
<line x1="136.07" y1="550.20" x2="136.07" y2="551.70" stroke="#666" stroke-width="0.5"/>
<line x1="136.93" y1="550.20" x2="136.93" y2="553.00" stroke="#2a2a2a" stroke-width="0.8"/>
<line x1="142.61" y1="550.20" x2="142.61" y2="551.70" stroke="#666" stroke-width="0.5"/>
<line x1="145.93" y1="550.20" x2="145.93" y2="551.70" stroke="#666" stroke-width="0.5"/>
<line x1="148.28" y1="550.20" x2="148.28" y2="551.70" stroke="#666" stroke-width="0.5"/>
<line x1="150.11" y1="550.20" x2="150.11" y2="551.70" stroke="#666" stroke-width="0.5"/>
<line x1="151.60" y1="550.20" x2="151.60" y2="551.70" stroke="#666" stroke-width="0.5"/>
<line x1="152.86" y1="550.20" x2="152.86" y2="551.70" stroke="#666" stroke-width="0.5"/>
<line x1="153.96" y1="550.20" x2="153.96" y2="551.70" stroke="#666" stroke-width="0.5"/>
<line x1="154.92" y1="550.20" x2="154.92" y2="551.70" stroke="#666" stroke-width="0.5"/>
<line x1="155.79" y1="550.20" x2="155.79" y2="553.00" stroke="#2a2a2a" stroke-width="0.8"/>
<line x1="161.46" y1="550.20" x2="161.46" y2="551.70" stroke="#666" stroke-width="0.5"/>
<line x1="164.78" y1="550.20" x2="164.78" y2="551.70" stroke="#666" stroke-width="0.5"/>
<line x1="167.14" y1="550.20" x2="167.14" y2="551.70" stroke="#666" stroke-width="0.5"/>
<line x1="168.97" y1="550.20" x2="168.97" y2="551.70" stroke="#666" stroke-width="0.5"/>
<line x1="170.46" y1="550.20" x2="170.46" y2="551.70" stroke="#666" stroke-width="0.5"/>
<line x1="171.72" y1="550.20" x2="171.72" y2="551.70" stroke="#666" stroke-width="0.5"/>
<line x1="172.82" y1="550.20" x2="172.82" y2="551.70" stroke="#666" stroke-width="0.5"/>
<line x1="173.78" y1="550.20" x2="173.78" y2="551.70" stroke="#666" stroke-width="0.5"/>
<line x1="174.64" y1="550.20" x2="174.64" y2="553.00" stroke="#2a2a2a" stroke-width="0.8"/>
<line x1="180.32" y1="550.20" x2="180.32" y2="551.70" stroke="#666" stroke-width="0.5"/>
<line x1="183.64" y1="550.20" x2="183.64" y2="551.70" stroke="#666" stroke-width="0.5"/>
<line x1="186.00" y1="550.20" x2="186.00" y2="551.70" stroke="#666" stroke-width="0.5"/>
<line x1="187.82" y1="550.20" x2="187.82" y2="551.70" stroke="#666" stroke-width="0.5"/>
<line x1="189.32" y1="550.20" x2="189.32" y2="551.70" stroke="#666" stroke-width="0.5"/>
<line x1="190.58" y1="550.20" x2="190.58" y2="551.70" stroke="#666" stroke-width="0.5"/>
<line x1="191.67" y1="550.20" x2="191.67" y2="551.70" stroke="#666" stroke-width="0.5"/>
<line x1="192.64" y1="550.20" x2="192.64" y2="551.70" stroke="#666" stroke-width="0.5"/>
<line x1="193.50" y1="550.20" x2="193.50" y2="553.00" stroke="#2a2a2a" stroke-width="0.8"/>
<text x="80.36" y="565.80" font-size="10.4" text-anchor="middle" fill="#1a1a1a" textLength="34.00" lengthAdjust="spacingAndGlyphs" stroke="#1a1a1a" stroke-width="0.18">0.0001</text>
<text x="117.07" y="565.80" font-size="10.4" text-anchor="middle" fill="#1a1a1a" textLength="20.40" lengthAdjust="spacingAndGlyphs" stroke="#1a1a1a" stroke-width="0.18">0.01</text>
<text x="155.79" y="565.80" font-size="10.4" text-anchor="middle" fill="#1a1a1a" textLength="4.20" lengthAdjust="spacingAndGlyphs" stroke="#1a1a1a" stroke-width="0.18">1</text>
<text x="195.50" y="565.80" font-size="10.4" text-anchor="middle" fill="#1a1a1a" textLength="17.50" lengthAdjust="spacingAndGlyphs" stroke="#1a1a1a" stroke-width="0.18">100</text>
<line x1="62.30" y1="418.00" x2="62.30" y2="432.00" stroke="#1a1a1a" stroke-width="0.85"/>
<line x1="60.50" y1="418.00" x2="64.10" y2="418.00" stroke="#1a1a1a" stroke-width="0.85"/>
<line x1="60.50" y1="432.00" x2="64.10" y2="432.00" stroke="#1a1a1a" stroke-width="0.85"/>
<polyline points="62.30,427.30 138.50,492.80 147.90,502.20 157.70,495.80 167.20,488.60 177.20,528.50" fill="none" stroke="#1a1a1a" stroke-width="1.05" stroke-linejoin="round"/>
<polyline points="62.50,422.40 138.70,499.60 148.10,507.50 157.70,499.80 167.20,489.00 177.20,533.50" fill="none" stroke="#1a1a1a" stroke-width="1.05" stroke-linejoin="round"/>
<polygon points="62.30,425.74 63.86,428.55 60.74,428.55" fill="#fff" stroke="#1a1a1a" stroke-width="0.85"/>
<polygon points="138.50,491.24 140.06,494.05 136.94,494.05" fill="#fff" stroke="#1a1a1a" stroke-width="0.85"/>
<polygon points="147.90,500.64 149.46,503.45 146.34,503.45" fill="#fff" stroke="#1a1a1a" stroke-width="0.85"/>
<polygon points="157.70,494.24 159.26,497.05 156.14,497.05" fill="#fff" stroke="#1a1a1a" stroke-width="0.85"/>
<polygon points="167.20,487.04 168.76,489.85 165.64,489.85" fill="#fff" stroke="#1a1a1a" stroke-width="0.85"/>
<polygon points="177.20,526.94 178.76,529.75 175.64,529.75" fill="#fff" stroke="#1a1a1a" stroke-width="0.85"/>
<rect x="60.50" y="420.40" width="4.00" height="4.00" fill="#000"/>
<rect x="136.70" y="497.60" width="4.00" height="4.00" fill="#000"/>
<rect x="146.10" y="505.50" width="4.00" height="4.00" fill="#000"/>
<rect x="155.70" y="497.80" width="4.00" height="4.00" fill="#000"/>
<rect x="165.20" y="487.00" width="4.00" height="4.00" fill="#000"/>
<rect x="175.20" y="531.50" width="4.00" height="4.00" fill="#000"/>
<polygon points="69.50,526.04 71.06,528.85 67.94,528.85" fill="#fff" stroke="#1a1a1a" stroke-width="0.8"/>
<rect x="67.60" y="538.50" width="3.80" height="3.80" fill="#000"/>
<text x="77.00" y="531.20" font-size="10.6" text-anchor="start" fill="#1a1a1a" textLength="48.50" lengthAdjust="spacingAndGlyphs" stroke="#1a1a1a" stroke-width="0.18">Paclitaxel</text>
<text x="77.00" y="544.00" font-size="10.6" text-anchor="start" fill="#1a1a1a" textLength="107.80" lengthAdjust="spacingAndGlyphs" stroke="#1a1a1a" stroke-width="0.18">Paclitaxel + NGR-TNF</text>
<line x1="207.00" y1="397.50" x2="207.00" y2="550.20" stroke="#2a2a2a" stroke-width="1.0"/>
<line x1="204.00" y1="550.20" x2="336.50" y2="550.20" stroke="#2a2a2a" stroke-width="1.0"/>
<line x1="204.20" y1="550.20" x2="207.00" y2="550.20" stroke="#2a2a2a" stroke-width="0.9"/>
<line x1="204.20" y1="528.39" x2="207.00" y2="528.39" stroke="#2a2a2a" stroke-width="0.9"/>
<line x1="204.20" y1="506.57" x2="207.00" y2="506.57" stroke="#2a2a2a" stroke-width="0.9"/>
<line x1="204.20" y1="484.76" x2="207.00" y2="484.76" stroke="#2a2a2a" stroke-width="0.9"/>
<line x1="204.20" y1="462.94" x2="207.00" y2="462.94" stroke="#2a2a2a" stroke-width="0.9"/>
<line x1="204.20" y1="441.13" x2="207.00" y2="441.13" stroke="#2a2a2a" stroke-width="0.9"/>
<line x1="204.20" y1="419.31" x2="207.00" y2="419.31" stroke="#2a2a2a" stroke-width="0.9"/>
<line x1="204.20" y1="397.50" x2="207.00" y2="397.50" stroke="#2a2a2a" stroke-width="0.9"/>
<line x1="214.80" y1="550.20" x2="214.80" y2="551.70" stroke="#666" stroke-width="0.5"/>
<line x1="219.36" y1="550.20" x2="219.36" y2="551.70" stroke="#666" stroke-width="0.5"/>
<line x1="222.59" y1="550.20" x2="222.59" y2="551.70" stroke="#666" stroke-width="0.5"/>
<line x1="225.10" y1="550.20" x2="225.10" y2="551.70" stroke="#666" stroke-width="0.5"/>
<line x1="227.15" y1="550.20" x2="227.15" y2="551.70" stroke="#666" stroke-width="0.5"/>
<line x1="228.89" y1="550.20" x2="228.89" y2="551.70" stroke="#666" stroke-width="0.5"/>
<line x1="230.39" y1="550.20" x2="230.39" y2="551.70" stroke="#666" stroke-width="0.5"/>
<line x1="231.71" y1="550.20" x2="231.71" y2="551.70" stroke="#666" stroke-width="0.5"/>
<line x1="232.90" y1="550.20" x2="232.90" y2="553.00" stroke="#2a2a2a" stroke-width="0.8"/>
<line x1="240.70" y1="550.20" x2="240.70" y2="551.70" stroke="#666" stroke-width="0.5"/>
<line x1="245.26" y1="550.20" x2="245.26" y2="551.70" stroke="#666" stroke-width="0.5"/>
<line x1="248.49" y1="550.20" x2="248.49" y2="551.70" stroke="#666" stroke-width="0.5"/>
<line x1="251.00" y1="550.20" x2="251.00" y2="551.70" stroke="#666" stroke-width="0.5"/>
<line x1="253.05" y1="550.20" x2="253.05" y2="551.70" stroke="#666" stroke-width="0.5"/>
<line x1="254.79" y1="550.20" x2="254.79" y2="551.70" stroke="#666" stroke-width="0.5"/>
<line x1="256.29" y1="550.20" x2="256.29" y2="551.70" stroke="#666" stroke-width="0.5"/>
<line x1="257.61" y1="550.20" x2="257.61" y2="551.70" stroke="#666" stroke-width="0.5"/>
<line x1="258.80" y1="550.20" x2="258.80" y2="553.00" stroke="#2a2a2a" stroke-width="0.8"/>
<line x1="266.60" y1="550.20" x2="266.60" y2="551.70" stroke="#666" stroke-width="0.5"/>
<line x1="271.16" y1="550.20" x2="271.16" y2="551.70" stroke="#666" stroke-width="0.5"/>
<line x1="274.39" y1="550.20" x2="274.39" y2="551.70" stroke="#666" stroke-width="0.5"/>
<line x1="276.90" y1="550.20" x2="276.90" y2="551.70" stroke="#666" stroke-width="0.5"/>
<line x1="278.95" y1="550.20" x2="278.95" y2="551.70" stroke="#666" stroke-width="0.5"/>
<line x1="280.69" y1="550.20" x2="280.69" y2="551.70" stroke="#666" stroke-width="0.5"/>
<line x1="282.19" y1="550.20" x2="282.19" y2="551.70" stroke="#666" stroke-width="0.5"/>
<line x1="283.51" y1="550.20" x2="283.51" y2="551.70" stroke="#666" stroke-width="0.5"/>
<line x1="284.70" y1="550.20" x2="284.70" y2="553.00" stroke="#2a2a2a" stroke-width="0.8"/>
<line x1="292.50" y1="550.20" x2="292.50" y2="551.70" stroke="#666" stroke-width="0.5"/>
<line x1="297.06" y1="550.20" x2="297.06" y2="551.70" stroke="#666" stroke-width="0.5"/>
<line x1="300.29" y1="550.20" x2="300.29" y2="551.70" stroke="#666" stroke-width="0.5"/>
<line x1="302.80" y1="550.20" x2="302.80" y2="551.70" stroke="#666" stroke-width="0.5"/>
<line x1="304.85" y1="550.20" x2="304.85" y2="551.70" stroke="#666" stroke-width="0.5"/>
<line x1="306.59" y1="550.20" x2="306.59" y2="551.70" stroke="#666" stroke-width="0.5"/>
<line x1="308.09" y1="550.20" x2="308.09" y2="551.70" stroke="#666" stroke-width="0.5"/>
<line x1="309.41" y1="550.20" x2="309.41" y2="551.70" stroke="#666" stroke-width="0.5"/>
<line x1="310.60" y1="550.20" x2="310.60" y2="553.00" stroke="#2a2a2a" stroke-width="0.8"/>
<line x1="318.40" y1="550.20" x2="318.40" y2="551.70" stroke="#666" stroke-width="0.5"/>
<line x1="322.96" y1="550.20" x2="322.96" y2="551.70" stroke="#666" stroke-width="0.5"/>
<line x1="326.19" y1="550.20" x2="326.19" y2="551.70" stroke="#666" stroke-width="0.5"/>
<line x1="328.70" y1="550.20" x2="328.70" y2="551.70" stroke="#666" stroke-width="0.5"/>
<line x1="330.75" y1="550.20" x2="330.75" y2="551.70" stroke="#666" stroke-width="0.5"/>
<line x1="332.49" y1="550.20" x2="332.49" y2="551.70" stroke="#666" stroke-width="0.5"/>
<line x1="333.99" y1="550.20" x2="333.99" y2="551.70" stroke="#666" stroke-width="0.5"/>
<line x1="335.31" y1="550.20" x2="335.31" y2="551.70" stroke="#666" stroke-width="0.5"/>
<line x1="336.50" y1="550.20" x2="336.50" y2="553.00" stroke="#2a2a2a" stroke-width="0.8"/>
<text x="234.40" y="565.80" font-size="10.4" text-anchor="middle" fill="#1a1a1a" textLength="33.50" lengthAdjust="spacingAndGlyphs" stroke="#1a1a1a" stroke-width="0.18">0.0001</text>
<text x="288.20" y="565.80" font-size="10.4" text-anchor="middle" fill="#1a1a1a" textLength="20.00" lengthAdjust="spacingAndGlyphs" stroke="#1a1a1a" stroke-width="0.18">0.01</text>
<text x="335.50" y="565.80" font-size="10.4" text-anchor="middle" fill="#1a1a1a" textLength="4.20" lengthAdjust="spacingAndGlyphs" stroke="#1a1a1a" stroke-width="0.18">1</text>
<line x1="207.00" y1="411.00" x2="207.00" y2="424.50" stroke="#1a1a1a" stroke-width="0.85"/>
<line x1="205.00" y1="411.00" x2="209.00" y2="411.00" stroke="#1a1a1a" stroke-width="0.85"/>
<line x1="205.00" y1="424.50" x2="209.00" y2="424.50" stroke="#1a1a1a" stroke-width="0.85"/>
<line x1="270.30" y1="420.20" x2="270.30" y2="427.30" stroke="#1a1a1a" stroke-width="0.85"/>
<line x1="268.30" y1="420.20" x2="272.30" y2="420.20" stroke="#1a1a1a" stroke-width="0.85"/>
<line x1="268.30" y1="427.30" x2="272.30" y2="427.30" stroke="#1a1a1a" stroke-width="0.85"/>
<line x1="283.40" y1="428.80" x2="283.40" y2="437.00" stroke="#1a1a1a" stroke-width="0.85"/>
<line x1="281.40" y1="428.80" x2="285.40" y2="428.80" stroke="#1a1a1a" stroke-width="0.85"/>
<line x1="281.40" y1="437.00" x2="285.40" y2="437.00" stroke="#1a1a1a" stroke-width="0.85"/>
<line x1="295.50" y1="447.50" x2="295.50" y2="457.50" stroke="#1a1a1a" stroke-width="0.85"/>
<line x1="293.70" y1="447.50" x2="297.30" y2="447.50" stroke="#1a1a1a" stroke-width="0.85"/>
<line x1="293.70" y1="457.50" x2="297.30" y2="457.50" stroke="#1a1a1a" stroke-width="0.85"/>
<polyline points="207.00,414.00 270.30,423.50 283.40,433.60 295.50,450.00 309.30,501.10 321.50,520.40" fill="none" stroke="#1a1a1a" stroke-width="1.05" stroke-linejoin="round"/>
<polyline points="207.00,421.30 270.30,423.70 283.40,434.00 295.50,454.30 309.30,501.20 321.50,520.50" fill="none" stroke="#1a1a1a" stroke-width="1.05" stroke-linejoin="round"/>
<polygon points="207.00,412.00 209.00,414.00 207.00,416.00 205.00,414.00" fill="#fff" stroke="#1a1a1a" stroke-width="0.8"/>
<polygon points="270.30,421.50 272.30,423.50 270.30,425.50 268.30,423.50" fill="#fff" stroke="#1a1a1a" stroke-width="0.8"/>
<polygon points="283.40,431.60 285.40,433.60 283.40,435.60 281.40,433.60" fill="#fff" stroke="#1a1a1a" stroke-width="0.8"/>
<polygon points="295.50,448.00 297.50,450.00 295.50,452.00 293.50,450.00" fill="#fff" stroke="#1a1a1a" stroke-width="0.8"/>
<polygon points="207.00,418.80 209.50,421.30 207.00,423.80 204.50,421.30" fill="#000"/>
<polygon points="270.30,421.20 272.80,423.70 270.30,426.20 267.80,423.70" fill="#000"/>
<polygon points="283.40,431.50 285.90,434.00 283.40,436.50 280.90,434.00" fill="#000"/>
<polygon points="295.50,451.80 298.00,454.30 295.50,456.80 293.00,454.30" fill="#000"/>
<polygon points="309.30,498.70 311.80,501.20 309.30,503.70 306.80,501.20" fill="#000"/>
<polygon points="321.50,518.00 324.00,520.50 321.50,523.00 319.00,520.50" fill="#000"/>
<polygon points="214.50,525.08 216.62,527.20 214.50,529.33 212.38,527.20" fill="#fff" stroke="#1a1a1a" stroke-width="0.8"/>
<polygon points="214.50,536.23 216.88,538.60 214.50,540.98 212.12,538.60" fill="#000"/>
<text x="221.50" y="530.80" font-size="10.6" text-anchor="start" fill="#1a1a1a" textLength="63.50" lengthAdjust="spacingAndGlyphs" stroke="#1a1a1a" stroke-width="0.18">Gemcitabine</text>
<text x="221.50" y="542.20" font-size="10.6" text-anchor="start" fill="#1a1a1a" textLength="63.50" lengthAdjust="spacingAndGlyphs" stroke="#1a1a1a" stroke-width="0.18">Gemcitabine</text>
<text x="288.90" y="542.20" font-size="10.4" text-anchor="start" fill="#1a1a1a" stroke="#1a1a1a" stroke-width="0.18">+</text>
<text x="298.80" y="542.20" font-size="10.8" text-anchor="start" fill="#1a1a1a" textLength="41.00" lengthAdjust="spacingAndGlyphs" stroke="#1a1a1a" stroke-width="0.18">NGR-TNF</text>
<line x1="356.30" y1="397.50" x2="356.30" y2="550.20" stroke="#2a2a2a" stroke-width="1.0"/>
<line x1="353.30" y1="550.20" x2="492.00" y2="550.20" stroke="#2a2a2a" stroke-width="1.0"/>
<line x1="353.50" y1="550.20" x2="356.30" y2="550.20" stroke="#2a2a2a" stroke-width="0.9"/>
<line x1="353.50" y1="528.39" x2="356.30" y2="528.39" stroke="#2a2a2a" stroke-width="0.9"/>
<line x1="353.50" y1="506.57" x2="356.30" y2="506.57" stroke="#2a2a2a" stroke-width="0.9"/>
<line x1="353.50" y1="484.76" x2="356.30" y2="484.76" stroke="#2a2a2a" stroke-width="0.9"/>
<line x1="353.50" y1="462.94" x2="356.30" y2="462.94" stroke="#2a2a2a" stroke-width="0.9"/>
<line x1="353.50" y1="441.13" x2="356.30" y2="441.13" stroke="#2a2a2a" stroke-width="0.9"/>
<line x1="353.50" y1="419.31" x2="356.30" y2="419.31" stroke="#2a2a2a" stroke-width="0.9"/>
<line x1="353.50" y1="397.50" x2="356.30" y2="397.50" stroke="#2a2a2a" stroke-width="0.9"/>
<line x1="362.14" y1="550.20" x2="362.14" y2="551.70" stroke="#666" stroke-width="0.5"/>
<line x1="365.55" y1="550.20" x2="365.55" y2="551.70" stroke="#666" stroke-width="0.5"/>
<line x1="367.97" y1="550.20" x2="367.97" y2="551.70" stroke="#666" stroke-width="0.5"/>
<line x1="369.85" y1="550.20" x2="369.85" y2="551.70" stroke="#666" stroke-width="0.5"/>
<line x1="371.39" y1="550.20" x2="371.39" y2="551.70" stroke="#666" stroke-width="0.5"/>
<line x1="372.68" y1="550.20" x2="372.68" y2="551.70" stroke="#666" stroke-width="0.5"/>
<line x1="373.81" y1="550.20" x2="373.81" y2="551.70" stroke="#666" stroke-width="0.5"/>
<line x1="374.80" y1="550.20" x2="374.80" y2="551.70" stroke="#666" stroke-width="0.5"/>
<line x1="375.69" y1="550.20" x2="375.69" y2="553.00" stroke="#2a2a2a" stroke-width="0.8"/>
<line x1="381.52" y1="550.20" x2="381.52" y2="551.70" stroke="#666" stroke-width="0.5"/>
<line x1="384.94" y1="550.20" x2="384.94" y2="551.70" stroke="#666" stroke-width="0.5"/>
<line x1="387.36" y1="550.20" x2="387.36" y2="551.70" stroke="#666" stroke-width="0.5"/>
<line x1="389.24" y1="550.20" x2="389.24" y2="551.70" stroke="#666" stroke-width="0.5"/>
<line x1="390.77" y1="550.20" x2="390.77" y2="551.70" stroke="#666" stroke-width="0.5"/>
<line x1="392.07" y1="550.20" x2="392.07" y2="551.70" stroke="#666" stroke-width="0.5"/>
<line x1="393.19" y1="550.20" x2="393.19" y2="551.70" stroke="#666" stroke-width="0.5"/>
<line x1="394.18" y1="550.20" x2="394.18" y2="551.70" stroke="#666" stroke-width="0.5"/>
<line x1="395.07" y1="550.20" x2="395.07" y2="553.00" stroke="#2a2a2a" stroke-width="0.8"/>
<line x1="400.91" y1="550.20" x2="400.91" y2="551.70" stroke="#666" stroke-width="0.5"/>
<line x1="404.32" y1="550.20" x2="404.32" y2="551.70" stroke="#666" stroke-width="0.5"/>
<line x1="406.74" y1="550.20" x2="406.74" y2="551.70" stroke="#666" stroke-width="0.5"/>
<line x1="408.62" y1="550.20" x2="408.62" y2="551.70" stroke="#666" stroke-width="0.5"/>
<line x1="410.16" y1="550.20" x2="410.16" y2="551.70" stroke="#666" stroke-width="0.5"/>
<line x1="411.45" y1="550.20" x2="411.45" y2="551.70" stroke="#666" stroke-width="0.5"/>
<line x1="412.58" y1="550.20" x2="412.58" y2="551.70" stroke="#666" stroke-width="0.5"/>
<line x1="413.57" y1="550.20" x2="413.57" y2="551.70" stroke="#666" stroke-width="0.5"/>
<line x1="414.46" y1="550.20" x2="414.46" y2="553.00" stroke="#2a2a2a" stroke-width="0.8"/>
<line x1="420.29" y1="550.20" x2="420.29" y2="551.70" stroke="#666" stroke-width="0.5"/>
<line x1="423.71" y1="550.20" x2="423.71" y2="551.70" stroke="#666" stroke-width="0.5"/>
<line x1="426.13" y1="550.20" x2="426.13" y2="551.70" stroke="#666" stroke-width="0.5"/>
<line x1="428.01" y1="550.20" x2="428.01" y2="551.70" stroke="#666" stroke-width="0.5"/>
<line x1="429.54" y1="550.20" x2="429.54" y2="551.70" stroke="#666" stroke-width="0.5"/>
<line x1="430.84" y1="550.20" x2="430.84" y2="551.70" stroke="#666" stroke-width="0.5"/>
<line x1="431.96" y1="550.20" x2="431.96" y2="551.70" stroke="#666" stroke-width="0.5"/>
<line x1="432.96" y1="550.20" x2="432.96" y2="551.70" stroke="#666" stroke-width="0.5"/>
<line x1="433.84" y1="550.20" x2="433.84" y2="553.00" stroke="#2a2a2a" stroke-width="0.8"/>
<line x1="439.68" y1="550.20" x2="439.68" y2="551.70" stroke="#666" stroke-width="0.5"/>
<line x1="443.09" y1="550.20" x2="443.09" y2="551.70" stroke="#666" stroke-width="0.5"/>
<line x1="445.51" y1="550.20" x2="445.51" y2="551.70" stroke="#666" stroke-width="0.5"/>
<line x1="447.39" y1="550.20" x2="447.39" y2="551.70" stroke="#666" stroke-width="0.5"/>
<line x1="448.93" y1="550.20" x2="448.93" y2="551.70" stroke="#666" stroke-width="0.5"/>
<line x1="450.23" y1="550.20" x2="450.23" y2="551.70" stroke="#666" stroke-width="0.5"/>
<line x1="451.35" y1="550.20" x2="451.35" y2="551.70" stroke="#666" stroke-width="0.5"/>
<line x1="452.34" y1="550.20" x2="452.34" y2="551.70" stroke="#666" stroke-width="0.5"/>
<line x1="453.23" y1="550.20" x2="453.23" y2="553.00" stroke="#2a2a2a" stroke-width="0.8"/>
<line x1="459.06" y1="550.20" x2="459.06" y2="551.70" stroke="#666" stroke-width="0.5"/>
<line x1="462.48" y1="550.20" x2="462.48" y2="551.70" stroke="#666" stroke-width="0.5"/>
<line x1="464.90" y1="550.20" x2="464.90" y2="551.70" stroke="#666" stroke-width="0.5"/>
<line x1="466.78" y1="550.20" x2="466.78" y2="551.70" stroke="#666" stroke-width="0.5"/>
<line x1="468.31" y1="550.20" x2="468.31" y2="551.70" stroke="#666" stroke-width="0.5"/>
<line x1="469.61" y1="550.20" x2="469.61" y2="551.70" stroke="#666" stroke-width="0.5"/>
<line x1="470.74" y1="550.20" x2="470.74" y2="551.70" stroke="#666" stroke-width="0.5"/>
<line x1="471.73" y1="550.20" x2="471.73" y2="551.70" stroke="#666" stroke-width="0.5"/>
<line x1="472.61" y1="550.20" x2="472.61" y2="553.00" stroke="#2a2a2a" stroke-width="0.8"/>
<line x1="478.45" y1="550.20" x2="478.45" y2="551.70" stroke="#666" stroke-width="0.5"/>
<line x1="481.86" y1="550.20" x2="481.86" y2="551.70" stroke="#666" stroke-width="0.5"/>
<line x1="484.29" y1="550.20" x2="484.29" y2="551.70" stroke="#666" stroke-width="0.5"/>
<line x1="486.16" y1="550.20" x2="486.16" y2="551.70" stroke="#666" stroke-width="0.5"/>
<line x1="487.70" y1="550.20" x2="487.70" y2="551.70" stroke="#666" stroke-width="0.5"/>
<line x1="489.00" y1="550.20" x2="489.00" y2="551.70" stroke="#666" stroke-width="0.5"/>
<line x1="490.12" y1="550.20" x2="490.12" y2="551.70" stroke="#666" stroke-width="0.5"/>
<line x1="491.11" y1="550.20" x2="491.11" y2="551.70" stroke="#666" stroke-width="0.5"/>
<line x1="492.00" y1="550.20" x2="492.00" y2="553.00" stroke="#2a2a2a" stroke-width="0.8"/>
<text x="378.19" y="565.80" font-size="10.4" text-anchor="middle" fill="#1a1a1a" textLength="33.50" lengthAdjust="spacingAndGlyphs" stroke="#1a1a1a" stroke-width="0.18">0.0001</text>
<text x="415.96" y="565.80" font-size="10.4" text-anchor="middle" fill="#1a1a1a" textLength="20.00" lengthAdjust="spacingAndGlyphs" stroke="#1a1a1a" stroke-width="0.18">0.01</text>
<text x="452.23" y="565.80" font-size="10.4" text-anchor="middle" fill="#1a1a1a" textLength="4.20" lengthAdjust="spacingAndGlyphs" stroke="#1a1a1a" stroke-width="0.18">1</text>
<text x="491.70" y="565.80" font-size="10.4" text-anchor="middle" fill="#1a1a1a" textLength="16.50" lengthAdjust="spacingAndGlyphs" stroke="#1a1a1a" stroke-width="0.18">100</text>
<line x1="356.20" y1="415.50" x2="356.20" y2="429.40" stroke="#1a1a1a" stroke-width="0.85"/>
<line x1="354.40" y1="415.50" x2="358.00" y2="415.50" stroke="#1a1a1a" stroke-width="0.85"/>
<line x1="354.40" y1="429.40" x2="358.00" y2="429.40" stroke="#1a1a1a" stroke-width="0.85"/>
<line x1="454.60" y1="418.80" x2="454.60" y2="438.00" stroke="#1a1a1a" stroke-width="0.85"/>
<line x1="452.80" y1="418.80" x2="456.40" y2="418.80" stroke="#1a1a1a" stroke-width="0.85"/>
<line x1="452.80" y1="438.00" x2="456.40" y2="438.00" stroke="#1a1a1a" stroke-width="0.85"/>
<line x1="463.50" y1="442.30" x2="463.50" y2="464.00" stroke="#1a1a1a" stroke-width="0.85"/>
<line x1="461.70" y1="442.30" x2="465.30" y2="442.30" stroke="#1a1a1a" stroke-width="0.85"/>
<line x1="461.70" y1="464.00" x2="465.30" y2="464.00" stroke="#1a1a1a" stroke-width="0.85"/>
<polyline points="356.30,418.80 454.80,425.00 463.80,449.40 471.00,479.00 478.00,511.80 484.20,527.20" fill="none" stroke="#1a1a1a" stroke-width="1.05" stroke-linejoin="round"/>
<polyline points="356.10,423.60 454.40,431.60 463.10,453.60 470.20,482.60 478.00,514.00 484.20,529.30" fill="none" stroke="#1a1a1a" stroke-width="1.05" stroke-linejoin="round"/>
<circle cx="356.30" cy="418.80" r="1.90" fill="#fff" stroke="#1a1a1a" stroke-width="0.9"/>
<circle cx="454.80" cy="425.00" r="1.90" fill="#fff" stroke="#1a1a1a" stroke-width="0.9"/>
<circle cx="463.80" cy="449.40" r="1.90" fill="#fff" stroke="#1a1a1a" stroke-width="0.9"/>
<circle cx="471.00" cy="479.00" r="1.90" fill="#fff" stroke="#1a1a1a" stroke-width="0.9"/>
<circle cx="478.00" cy="511.80" r="1.90" fill="#fff" stroke="#1a1a1a" stroke-width="0.9"/>
<circle cx="484.20" cy="527.20" r="1.90" fill="#fff" stroke="#1a1a1a" stroke-width="0.9"/>
<circle cx="356.10" cy="423.60" r="2.15" fill="#000"/>
<circle cx="454.40" cy="431.60" r="2.15" fill="#000"/>
<circle cx="463.10" cy="453.60" r="2.15" fill="#000"/>
<circle cx="470.20" cy="482.60" r="2.15" fill="#000"/>
<circle cx="478.00" cy="514.00" r="2.15" fill="#000"/>
<circle cx="484.20" cy="529.30" r="2.15" fill="#000"/>
<circle cx="365.30" cy="526.20" r="1.70" fill="#fff" stroke="#1a1a1a" stroke-width="0.8"/>
<circle cx="365.30" cy="539.60" r="1.90" fill="#000"/>
<text x="373.60" y="529.80" font-size="10.6" text-anchor="start" fill="#1a1a1a" textLength="50.50" lengthAdjust="spacingAndGlyphs" stroke="#1a1a1a" stroke-width="0.18">Melphalan</text>
<text x="373.60" y="543.20" font-size="10.6" text-anchor="start" fill="#1a1a1a" textLength="50.50" lengthAdjust="spacingAndGlyphs" stroke="#1a1a1a" stroke-width="0.18">Melphalan</text>
<text x="428.70" y="543.20" font-size="10.4" text-anchor="start" fill="#1a1a1a" stroke="#1a1a1a" stroke-width="0.18">+</text>
<text x="438.60" y="543.20" font-size="10.8" text-anchor="start" fill="#1a1a1a" textLength="39.80" lengthAdjust="spacingAndGlyphs" stroke="#1a1a1a" stroke-width="0.18">NGR-TNF</text>
<text x="28.00" y="446.90" font-size="14.5" text-anchor="start" fill="#1a1a1a" textLength="74.60" lengthAdjust="spacingAndGlyphs" stroke="#1a1a1a" stroke-width="0.18" transform="rotate(-90 28.00 446.90)">Cell viability</text>
<text x="28.00" y="366.30" font-size="14.5" text-anchor="start" fill="#1a1a1a" stroke="#1a1a1a" stroke-width="0.18" transform="rotate(-90 28.00 366.30)">(</text>
<text x="28.00" y="359.60" font-size="14.5" text-anchor="start" fill="#1a1a1a" textLength="10.50" lengthAdjust="spacingAndGlyphs" stroke="#1a1a1a" stroke-width="0.18" transform="rotate(-90 28.00 359.60)">A</text>
<text x="31.60" y="348.30" font-size="10.3" text-anchor="start" fill="#1a1a1a" textLength="15.30" lengthAdjust="spacingAndGlyphs" stroke="#1a1a1a" stroke-width="0.18" transform="rotate(-90 31.60 348.30)">570</text>
<text x="31.60" y="328.20" font-size="10.3" text-anchor="start" fill="#1a1a1a" textLength="12.50" lengthAdjust="spacingAndGlyphs" stroke="#1a1a1a" stroke-width="0.18" transform="rotate(-90 31.60 328.20)">nm</text>
<text x="28.00" y="314.30" font-size="14.5" text-anchor="start" fill="#1a1a1a" stroke="#1a1a1a" stroke-width="0.18" transform="rotate(-90 28.00 314.30)">)</text>
<text x="187.80" y="585.50" font-size="12.4" text-anchor="start" fill="#1a1a1a" textLength="163.00" lengthAdjust="spacingAndGlyphs" stroke="#1a1a1a" stroke-width="0.18">Chemotherapeutic drug (<tspan font-style="italic">μ</tspan>g/ml)</text>
</svg></body></html>
